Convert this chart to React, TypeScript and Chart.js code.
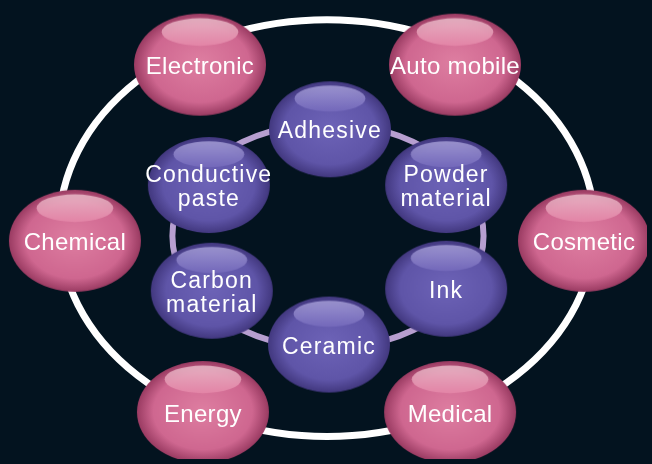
import React, { useEffect, useRef } from "react";
import { Chart, registerables } from "chart.js";

Chart.register(...registerables);

// ---- data ----
const outerLabels = ["Electronic", "Auto mobile", "Chemical", "Cosmetic", "Energy", "Medical"];
const outerX = [198, 457, 71, 588, 201, 452];
const outerY = [61, 61, 241, 241, 416, 416];

const innerLabels = ["Adhesive", "Conductive\npaste", "Powder\nmaterial", "Carbon\nmaterial", "Ink", "Ceramic"];
const innerX = [330, 207, 448, 210, 448, 329];
const innerY = [127, 184, 184, 292, 290, 347];

// ring geometry in data units: [cx, cy, rx, ry]
const outerRing = [327, 228, 272, 213];
const innerRing = [328, 236, 158, 115];

const W = 652;
const H = 464;
const BG = "#03131f";

type Pal = { c0: string; c1: string; c2: string; h0: string; h1: string };
const PINK: Pal = { c0: "#de7ea1", c1: "#cf6790", c2: "#9a3b62", h0: "#ecc2ce", h1: "#e689aa" };
const PURPLE: Pal = { c0: "#6d63b7", c1: "#5f55a8", c2: "#42387f", h0: "#aaa3da", h1: "#766bbd" };

function makeBubble(rx: number, ry: number, p: Pal): HTMLCanvasElement {
  const c = document.createElement("canvas");
  c.width = Math.ceil(rx * 2 + 2);
  c.height = Math.ceil(ry * 2 + 2);
  const ctx = c.getContext("2d")!;
  const cx = c.width / 2;
  const cy = c.height / 2;
  ctx.save();
  ctx.translate(cx, cy);
  ctx.scale(1, ry / rx);
  const g = ctx.createRadialGradient(0, -rx * 0.05, 0, 0, 0, rx);
  g.addColorStop(0, p.c0);
  g.addColorStop(0.75, p.c1);
  g.addColorStop(1, p.c2);
  ctx.beginPath();
  ctx.arc(0, 0, rx, 0, Math.PI * 2);
  ctx.fillStyle = g;
  ctx.fill();
  ctx.restore();
  const hx = rx * 0.58;
  const hy = ry * 0.27;
  const hcy = cy - ry * 0.64;
  const lg = ctx.createLinearGradient(0, hcy - hy, 0, hcy + hy);
  lg.addColorStop(0, p.h0);
  lg.addColorStop(1, p.h1);
  ctx.beginPath();
  ctx.ellipse(cx, hcy, hx, hy, 0, 0, Math.PI * 2);
  ctx.fillStyle = lg;
  ctx.globalAlpha = 0.8;
  ctx.fill();
  ctx.globalAlpha = 1;
  return c;
}

const ringsPlugin = {
  id: "rings",
  beforeDraw(chart: any) {
    const { ctx } = chart;
    ctx.save();
    ctx.fillStyle = BG;
    ctx.fillRect(0, 0, chart.width, chart.height);
    ctx.restore();
  },
  beforeDatasetsDraw(chart: any) {
    const { ctx, scales } = chart;
    const xs = scales.x;
    const ys = scales.y;
    const draw = (r: number[], color: string, lw: number) => {
      const px = xs.getPixelForValue(r[0]);
      const py = ys.getPixelForValue(r[1]);
      const prx = Math.abs(xs.getPixelForValue(r[0] + r[2]) - px);
      const pry = Math.abs(ys.getPixelForValue(r[1] + r[3]) - py);
      ctx.save();
      ctx.beginPath();
      ctx.ellipse(px, py, prx, pry, 0, 0, Math.PI * 2);
      ctx.strokeStyle = color;
      ctx.lineWidth = lw;
      ctx.stroke();
      ctx.restore();
    };
    draw(outerRing, "#ffffff", 7);
    draw(innerRing, "#b79fd0", 6);
  },
};

const labelsPlugin = {
  id: "bubbleLabels",
  afterDatasetsDraw(chart: any) {
    const { ctx } = chart;
    chart.data.datasets.forEach((ds: any, di: number) => {
      const meta = chart.getDatasetMeta(di);
      const isInner = di === 1;
      const size = isInner ? 23 : 24;
      ctx.save();
      ctx.fillStyle = "#ffffff";
      ctx.textAlign = "center";
      ctx.textBaseline = "alphabetic";
      ctx.font = size + "px 'Liberation Sans', Arial, sans-serif";
      try {
        (ctx as any).letterSpacing = isInner ? "1.2px" : "0.3px";
      } catch (e) {}
      const lh = 24;
      const capHalf = (0.716 * size) / 2;
      meta.data.forEach((el: any, i: number) => {
        const lines = String(ds.labelsText[i]).split("\n");
        const y0 = el.y - ((lines.length - 1) * lh) / 2 + capHalf + 1;
        lines.forEach((t: string, k: number) => ctx.fillText(t, el.x, y0 + k * lh));
      });
      ctx.restore();
    });
  },
};

export default function App() {
  const ref = useRef<HTMLCanvasElement>(null);
  useEffect(() => {
    document.body.style.margin = "0";
    document.body.style.background = BG;
    const pinkImg = makeBubble(66, 51, PINK);
    const purpleImg = makeBubble(61, 48, PURPLE);
    const chart = new Chart(ref.current!, {
      type: "scatter",
      data: {
        datasets: [
          {
            label: "Fields",
            data: outerX.map((x, i) => ({ x, y: outerY[i] })),
            pointStyle: outerLabels.map(() => pinkImg) as any,
            labelsText: outerLabels,
          } as any,
          {
            label: "Materials",
            data: innerX.map((x, i) => ({ x, y: innerY[i] })),
            pointStyle: innerLabels.map(() => purpleImg) as any,
            labelsText: innerLabels,
          } as any,
        ],
      },
      options: {
        animation: false,
        responsive: false,
        maintainAspectRatio: false,
        events: [],
        layout: { padding: 0 },
        plugins: { legend: { display: false }, tooltip: { enabled: false } },
        scales: {
          x: { type: "linear", min: 0, max: W, display: false },
          y: { type: "linear", min: 0, max: H, reverse: true, display: false },
        },
      },
      plugins: [ringsPlugin, labelsPlugin],
    });
    return () => chart.destroy();
  }, []);
  return <canvas ref={ref} width={W} height={H} style={{ display: "block" }} />;
}
